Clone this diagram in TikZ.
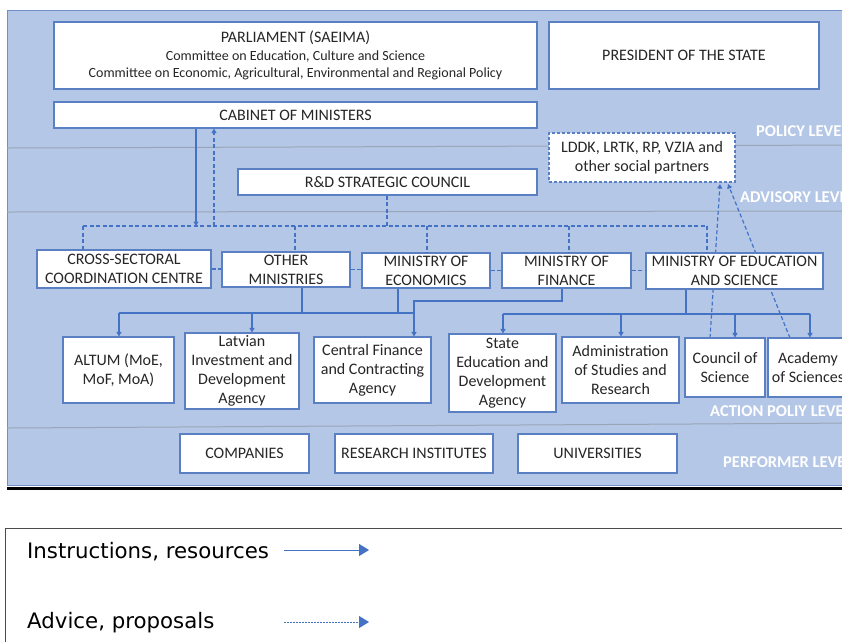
\documentclass[tikz,border=0pt]{standalone}
\usepackage{fontspec}
\setmainfont{Carlito}
\newfontfamily\legendfont{DejaVu Sans}
\usetikzlibrary{arrows.meta,calc}
\definecolor{panelbg}{HTML}{B4C7E7}
\definecolor{panelline}{HTML}{6F8FCB}
\definecolor{boxline}{HTML}{5B7FC3}
\definecolor{conn}{HTML}{4472C4}
\definecolor{sepline}{HTML}{9AA6B8}
\definecolor{txt}{HTML}{262626}
\tikzset{
 orgbox/.style={draw=boxline, line width=1.1pt, fill=white, inner sep=0pt, align=center, text=txt, font=\fontsize{16}{19}\selectfont},
 partnerbox/.style={orgbox, dash pattern=on 3pt off 2pt},
 solidline/.style={draw=conn, line width=1.3pt},
 solidarr/.style={solidline, -{Triangle[length=4.5pt,width=5pt]}},
 dashline/.style={draw=conn, line width=1.2pt, dash pattern=on 4pt off 2.5pt},
 dasharr/.style={dashline, -{Triangle[length=4.5pt,width=5pt]}},
 levellabel/.style={anchor=west, text=white, font=\bfseries\fontsize{16.5}{19}\selectfont, inner sep=0pt},
 legendtext/.style={anchor=west, inner sep=0pt, text=black, font=\legendfont\fontsize{21.3}{25}\selectfont},
}
\begin{document}
\begin{tikzpicture}[x=1pt,y=-1pt]
\useasboundingbox (0,0) rectangle (842,641);
\clip (0,0) rectangle (842,641);
\fill[white] (0,0) rectangle (842,641);
% panel
\draw[panelline, fill=panelbg, line width=1pt] (7,10) rectangle (860,485);
\draw[black, line width=3pt] (7,488.5) -- (860,488.5);
% level separators
\draw[sepline, line width=1pt] (7,148) -- (860,145);
\draw[sepline, line width=1pt] (7,212) -- (860,211);
\draw[sepline, line width=1pt] (7,428) -- (860,423);
% level labels
\node[levellabel] (lpol) at (756,131) {POLICY LEVEL};
\node[levellabel] (ladv) at (740,197) {ADVISORY LEVEL};
\node[levellabel] (lact) at (710,411) {ACTION POLIY LEVEL};
\node[levellabel] (lper) at (723,462) {PERFORMER LEVEL};

% coordinates for connectors
\coordinate (busL) at (83,226);
\coordinate (busR) at (707,226);
\coordinate (cabdown) at (196,226);
\coordinate (cabup) at (214,226);
\coordinate (rndtop) at (387,226);
\coordinate (othtop) at (295,226);
\coordinate (ecotop) at (427,226);
\coordinate (fintop) at (569,226);
\coordinate (lowL) at (119,313);
\coordinate (lowR) at (414,313);
\coordinate (liadtop) at (252,313);
\coordinate (othbot) at (302,313);
\coordinate (ecobot) at (398,313);
\coordinate (finbend) at (562,301);
\coordinate (cfcabend) at (414,301);
\coordinate (eduL) at (503,314);
\coordinate (eduR) at (810,314);
\coordinate (edubot) at (686,314);
\coordinate (asrtop) at (621,314);
\coordinate (costop) at (735,314);
\coordinate (cosup) at (710,338);
\coordinate (lddkin1) at (720,184);
\coordinate (acadup) at (790,338);
\coordinate (lddkin2) at (728,184);

% nodes
\node[orgbox, minimum width=483pt, minimum height=67pt] (parl) at (295.5,55.5)
 {PARLIAMENT (SAEIMA)\\[-1pt]
  \fontsize{14}{17}\selectfont Committee on Education, Culture and Science\\[-1.5pt]
  \fontsize{14}{17}\selectfont Committee on Economic, Agricultural, Environmental and Regional Policy};
\node[orgbox, minimum width=270pt, minimum height=67pt] (pres) at (684,55.5) {PRESIDENT OF THE STATE};
\node[orgbox, minimum width=483pt, minimum height=26pt] (cab) at (295.5,115) {CABINET OF MINISTERS};
\node[partnerbox, minimum width=186pt, minimum height=49pt] (lddk) at (642,157.5) {LDDK, LRTK, RP, VZIA and\\other social partners};
\node[orgbox, minimum width=299pt, minimum height=26pt] (rnd) at (387.5,182) {R\&D STRATEGIC COUNCIL};

% connectors (behind boxes)
\draw[solidarr] (cab.south -| cabdown) -- (cabdown);
\draw[dasharr] (cabup) -- (cab.south -| cabup);
\draw[dashline] (rnd.south -| rndtop) -- (rndtop);
\draw[dashline] (busL) -- (busR);
\draw[dasharr] (cosup) -- (lddkin1);
\draw[dasharr] (acadup) -- (lddkin2);

\node[orgbox, minimum width=174pt, minimum height=38pt] (cross) at (124,269) {CROSS-SECTORAL\\COORDINATION CENTRE};
\node[orgbox, minimum width=128pt, minimum height=35pt] (other) at (286,269.5) {OTHER\\MINISTRIES};
\node[orgbox, minimum width=128pt, minimum height=35pt] (econ) at (426,270.5) {MINISTRY OF\\ECONOMICS};
\node[orgbox, minimum width=129pt, minimum height=35pt] (fin) at (566.5,270.5) {MINISTRY OF\\FINANCE};
\node[orgbox, minimum width=177pt, minimum height=36pt] (edu) at (734.5,271) {MINISTRY OF EDUCATION\\AND SCIENCE};

\node[orgbox, minimum width=111pt, minimum height=66pt] (altum) at (118.5,370) {ALTUM (MoE,\\MoF, MoA)};
\node[orgbox, minimum width=114pt, minimum height=76pt] (liad) at (242,371) {Latvian\\Investment and\\Development\\Agency};
\node[orgbox, minimum width=117pt, minimum height=66pt] (cfca) at (372.5,370) {Central Finance\\and Contracting\\Agency};
\node[orgbox, minimum width=107pt, minimum height=78pt] (seda) at (502.5,373) {State\\Education and\\Development\\Agency};
\node[orgbox, minimum width=117pt, minimum height=66pt] (asr) at (620.5,370) {Administration\\of Studies and\\Research};
\node[orgbox, minimum width=80pt, minimum height=59pt] (cos) at (725,367.5) {Council of\\Science};
\node[orgbox, minimum width=80pt, minimum height=59pt] (acad) at (808,367.5) {Academy\\of Sciences};

\node[orgbox, minimum width=129pt, minimum height=39pt] (comp) at (244.5,453.5) {COMPANIES};
\node[orgbox, minimum width=158pt, minimum height=39pt] (ri) at (414,453.5) {RESEARCH INSTITUTES};
\node[orgbox, minimum width=159pt, minimum height=39pt] (univ) at (597.5,453.5) {UNIVERSITIES};

% dashed links to ministries
\draw[dashline] (busL) -- (cross.north -| busL);
\draw[dashline] (busR) -- (edu.north -| busR);
\draw[dashline] (othtop) -- (other.north -| othtop);
\draw[dashline] (ecotop) -- (econ.north -| ecotop);
\draw[dashline] (fintop) -- (fin.north -| fintop);
\draw[dashline] (cross.east) -- (cross.east -| other.west);
\draw[dashline] (other.east) -- (other.east -| econ.west);
\draw[dashline] (econ.east) -- (econ.east -| fin.west);
\draw[dashline] (fin.east) -- (fin.east -| edu.west);

% solid instruction lines
\draw[solidline] (other.south -| othbot) -- (othbot);
\draw[solidline] (econ.south -| ecobot) -- (ecobot);
\draw[solidline] (lowL) -- (lowR);
\draw[solidarr] (lowL) -- (altum.north -| lowL);
\draw[solidarr] (liadtop) -- (liad.north -| liadtop);
\draw[solidarr] (fin.south -| finbend) -- (finbend) -- (cfcabend) -- (cfca.north -| cfcabend);
\draw[solidline] (edu.south -| edubot) -- (edubot);
\draw[solidline] (eduL) -- (eduR);
\draw[solidarr] (eduL) -- (seda.north -| eduL);
\draw[solidarr] (asrtop) -- (asr.north -| asrtop);
\draw[solidarr] (costop) -- (cos.north -| costop);
\draw[solidarr] (eduR) -- (acad.north -| eduR);

% legend
\draw[black!70, line width=1pt] (5,660) -- (5,528) -- (860,528);
\node[legendtext] (leg1) at (27,552) {Instructions, resources};
\node[legendtext] (leg2) at (27,623) {Advice, proposals};
\coordinate (l1s) at (284,550);
\coordinate (l1e) at (369,550);
\coordinate (l2s) at (284,622);
\coordinate (l2e) at (369,622);
\draw[conn, line width=1pt, -{Triangle[length=10pt,width=12pt]}] (l1s) -- (l1e);
\draw[conn, line width=1pt, dash pattern=on 2pt off 1pt, -{Triangle[length=10pt,width=12pt]}] (l2s) -- (l2e);
\end{tikzpicture}
\end{document}
